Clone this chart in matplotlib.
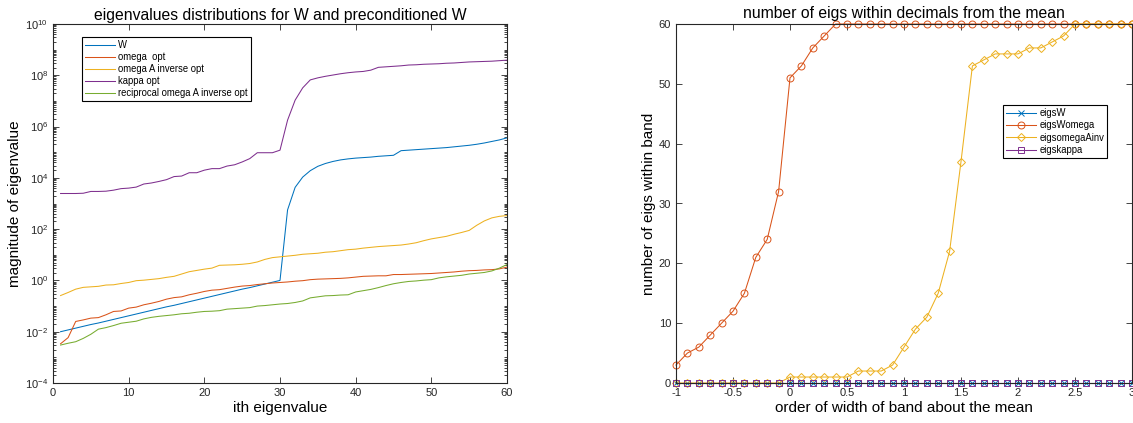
import numpy as np
import matplotlib
matplotlib.use("Agg")
import matplotlib.pyplot as plt
from matplotlib.ticker import LogLocator, FixedLocator, FuncFormatter, NullFormatter

plt.rcParams['font.family'] = ['Liberation Sans', 'DejaVu Sans']

# ---------------- data: left panel (log10 of eigenvalue magnitudes, i = 1..60)
idx = list(range(1, 61))
log10_W = [-2.00, -1.93, -1.86, -1.79, -1.72, -1.66, -1.59, -1.52, -1.45, -1.38,
           -1.31, -1.24, -1.17, -1.10, -1.03, -0.97, -0.90, -0.83, -0.76, -0.69,
           -0.62, -0.55, -0.48, -0.41, -0.34, -0.28, -0.21, -0.14, -0.07, 0.00,
           2.75, 3.63, 4.03, 4.28, 4.45, 4.56, 4.64, 4.70, 4.74, 4.77,
           4.79, 4.81, 4.84, 4.86, 4.88, 5.06, 5.08, 5.10, 5.12, 5.14,
           5.16, 5.18, 5.21, 5.24, 5.27, 5.31, 5.36, 5.42, 5.48, 5.56]
log10_omega = [-2.47, -2.23, -1.60, -1.54, -1.47, -1.45, -1.34, -1.21, -1.19, -1.08,
               -1.04, -0.95, -0.89, -0.82, -0.73, -0.67, -0.64, -0.56, -0.50, -0.43,
               -0.38, -0.36, -0.31, -0.26, -0.22, -0.20, -0.16, -0.13, -0.10, -0.08,
               -0.06, -0.03, -0.01, 0.03, 0.05, 0.06, 0.07, 0.08, 0.10, 0.13,
               0.16, 0.17, 0.18, 0.18, 0.23, 0.23, 0.24, 0.25, 0.26, 0.27,
               0.29, 0.31, 0.33, 0.36, 0.38, 0.39, 0.41, 0.42, 0.45, 0.52]
log10_omegaAinv = [-0.59, -0.47, -0.34, -0.27, -0.25, -0.23, -0.18, -0.17, -0.12, -0.08,
                   -0.01, 0.01, 0.04, 0.07, 0.12, 0.16, 0.25, 0.34, 0.39, 0.44,
                   0.48, 0.59, 0.60, 0.61, 0.63, 0.66, 0.72, 0.82, 0.89, 0.92,
                   0.95, 0.98, 1.02, 1.04, 1.06, 1.10, 1.12, 1.16, 1.20, 1.22,
                   1.26, 1.29, 1.32, 1.34, 1.36, 1.38, 1.42, 1.47, 1.55, 1.62,
                   1.67, 1.72, 1.80, 1.87, 1.95, 2.15, 2.32, 2.44, 2.50, 2.53]
log10_kappa = [3.39, 3.39, 3.39, 3.40, 3.47, 3.47, 3.48, 3.52, 3.58, 3.60,
               3.64, 3.76, 3.80, 3.86, 3.93, 4.05, 4.07, 4.20, 4.20, 4.30,
               4.36, 4.36, 4.46, 4.51, 4.62, 4.75, 4.98, 4.98, 4.98, 5.08,
               6.25, 7.03, 7.51, 7.82, 7.90, 7.96, 8.01, 8.06, 8.10, 8.13,
               8.15, 8.20, 8.31, 8.33, 8.35, 8.37, 8.40, 8.41, 8.43, 8.44,
               8.45, 8.47, 8.48, 8.50, 8.52, 8.53, 8.54, 8.55, 8.57, 8.59]
log10_recip = [-2.52, -2.45, -2.39, -2.26, -2.10, -1.90, -1.84, -1.76, -1.67, -1.63,
               -1.59, -1.50, -1.44, -1.40, -1.37, -1.34, -1.30, -1.28, -1.24, -1.21,
               -1.20, -1.18, -1.12, -1.10, -1.08, -1.06, -1.00, -0.98, -0.95, -0.92,
               -0.90, -0.86, -0.80, -0.68, -0.64, -0.60, -0.59, -0.57, -0.56, -0.45,
               -0.40, -0.35, -0.28, -0.20, -0.13, -0.08, -0.04, -0.02, 0.01, 0.03,
               0.10, 0.14, 0.17, 0.20, 0.25, 0.28, 0.31, 0.37, 0.48, 0.62]
left_labels = ['W', 'omega  opt', 'omega A inverse opt', 'kappa opt',
               'reciprocal omega A inverse opt']

# ---------------- data: right panel
band_order = [-1.0, -0.9, -0.8, -0.7, -0.6, -0.5, -0.4, -0.3, -0.2, -0.1,
              0.0, 0.1, 0.2, 0.3, 0.4, 0.5, 0.6, 0.7, 0.8, 0.9,
              1.0, 1.1, 1.2, 1.3, 1.4, 1.5, 1.6, 1.7, 1.8, 1.9,
              2.0, 2.1, 2.2, 2.3, 2.4, 2.5, 2.6, 2.7, 2.8, 2.9, 3.0]
eigsW = [0] * 41
eigsWomega = [3, 5, 6, 8, 10, 12, 15, 21, 24, 32,
              51, 53, 56, 58, 60, 60, 60, 60, 60, 60,
              60, 60, 60, 60, 60, 60, 60, 60, 60, 60,
              60, 60, 60, 60, 60, 60, 60, 60, 60, 60, 60]
eigsomegaAinv = [0, 0, 0, 0, 0, 0, 0, 0, 0, 0,
                 1, 1, 1, 1, 1, 1, 2, 2, 2, 3,
                 6, 9, 11, 15, 22, 37, 53, 54, 55, 55,
                 55, 56, 56, 57, 58, 60, 60, 60, 60, 60, 60]
eigskappa = [0] * 41
right_labels = ['eigsW', 'eigsWomega', 'eigsomegaAinv', 'eigskappa']

C = ['#0072BD', '#D95319', '#EDB120', '#7E2F8E', '#77AC30']
AX = '#262626'

fig = plt.figure(figsize=(11.33, 4.23), dpi=100)
W, H = 1133, 423


def style(ax):
    for s in ax.spines.values():
        s.set_color(AX)
        s.set_linewidth(0.8)
    ax.tick_params(which='both', direction='in', top=True, right=True,
                   colors=AX, labelsize=8, width=0.6)
    ax.tick_params(which='major', length=4)
    ax.tick_params(which='minor', length=2)


# ---------- left
ax1 = fig.add_axes([53 / W, 40 / H, 454 / W, 359 / H])
series = [log10_W, log10_omega, log10_omegaAinv, log10_kappa, log10_recip]
for s, c, lab in zip(series, C, left_labels):
    ax1.semilogy(idx, 10.0 ** np.array(s), color=c, lw=0.75, label=lab)
ax1.set_xlim(0, 60)
ax1.set_ylim(1e-4, 1e10)
ax1.set_xticks([0, 10, 20, 30, 40, 50, 60])
ax1.yaxis.set_major_locator(FixedLocator([10.0 ** k for k in range(-4, 11, 2)]))
ax1.yaxis.set_minor_locator(LogLocator(base=10, subs=np.arange(1, 10), numticks=100))
ax1.yaxis.set_minor_formatter(NullFormatter())
style(ax1)
ax1.set_title('eigenvalues distributions for W and preconditioned W', fontsize=11.3, pad=3)
ax1.set_xlabel('ith eigenvalue', fontsize=11, labelpad=2)
ax1.set_ylabel('magnitude of eigenvalue', fontsize=11, labelpad=2)
leg1 = ax1.legend(loc='upper left', bbox_to_anchor=((82 - 53) / 454, (383 - 37) / 359),
                  fontsize=6.85, frameon=True, fancybox=False, framealpha=1,
                  edgecolor='black', handlelength=3.2, handletextpad=0.3,
                  labelspacing=0.22, borderpad=0.3, borderaxespad=0)
leg1.get_frame().set_linewidth(0.8)

# ---------- right
ax2 = fig.add_axes([676 / W, 40 / H, 456 / W, 359 / H])
rs = [eigsW, eigsWomega, eigsomegaAinv, eigskappa]
mk = ['x', 'o', 'D', 's']
ms = [4, 5, 4.5, 4.5]
for s, c, m, z, lab in zip(rs, C[:4], mk, ms, right_labels):
    ax2.plot(band_order, s, color=c, lw=0.75, marker=m, ms=z, mfc='none',
             mew=0.7, label=lab, clip_on=False)
ax2.set_xlim(-1, 3)
ax2.set_ylim(0, 60)
ax2.set_xticks([-1, -0.5, 0, 0.5, 1, 1.5, 2, 2.5, 3])
ax2.xaxis.set_major_formatter(FuncFormatter(lambda v, p: '%g' % v))
ax2.set_yticks([0, 10, 20, 30, 40, 50, 60])
style(ax2)
ax2.set_title('number of eigs within decimals from the mean', fontsize=11.3, pad=4)
ax2.set_xlabel('order of width of band about the mean', fontsize=11, labelpad=2)
ax2.set_ylabel('number of eigs within band', fontsize=11, labelpad=2)
leg2 = ax2.legend(loc='upper left', bbox_to_anchor=((1003 - 676) / 456, (383 - 105) / 359),
                  fontsize=6.85, frameon=True, fancybox=False, framealpha=1,
                  edgecolor='black', handlelength=3.2, handletextpad=0.3,
                  labelspacing=0.25, borderpad=0.3, borderaxespad=0)
leg2.get_frame().set_linewidth(0.8)

fig.savefig('out.png', dpi=100)
